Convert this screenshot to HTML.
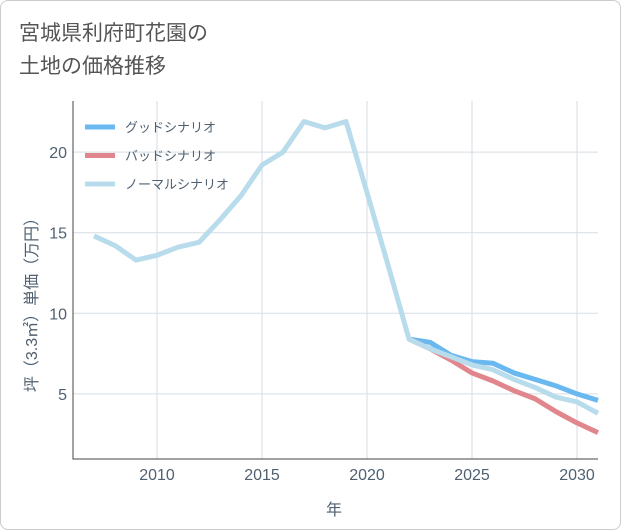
<!DOCTYPE html>
<html><head><meta charset="utf-8"><style>
body{margin:0;background:#fff;}
#card{position:absolute;left:0;top:0;width:619px;height:528px;border:1px solid #ccc;border-radius:8px;background:#fff;overflow:hidden;}
.t{font-family:"Liberation Sans","Noto Sans CJK JP",sans-serif;}
</style></head><body>
<div id="card">
<div class="t" style="position:absolute;left:18px;top:16px;font-size:21px;line-height:33px;color:#555;">宮城県利府町花園の<br>土地の価格推移</div>
<svg id="chart" width="621" height="530" style="position:absolute;left:0;top:0"></svg>
</div>
<script>
const years=[2007,2008,2009,2010,2011,2012,2013,2014,2015,2016,2017,2018,2019,2020,2021,2022,2023,2024,2025,2026,2027,2028,2029,2030,2031];
const normalVals=[14.8,14.2,13.3,13.6,14.1,14.4,15.8,17.3,19.2,20.0,21.9,21.5,21.9,17.5,13.0,8.4,7.8,7.3,6.8,6.5,5.9,5.4,4.8,4.5,3.8];
const futureYears=[2022,2023,2024,2025,2026,2027,2028,2029,2030,2031];
const goodVals=[8.4,8.2,7.4,7.0,6.9,6.3,5.9,5.5,5.0,4.6];
const badVals=[8.4,7.8,7.1,6.3,5.8,5.2,4.7,3.9,3.2,2.6];
const xTicks=[2010,2015,2020,2025,2030];
const yTicks=[5,10,15,20];
const legendLabels=["グッドシナリオ","バッドシナリオ","ノーマルシナリオ"];
const legendColors=["#6ab8f0","#e0868c","#b8dcec"];

const L=72,R=597,T=100,B=458;
const x=v=>L+(v-2006)*(R-L)/25;
const y=v=>473.5-v*16.12;
const svg=document.getElementById('chart');
const NS='http://www.w3.org/2000/svg';
function mk(tag,attrs){const e=document.createElementNS(NS,tag);for(const k in attrs)e.setAttribute(k,attrs[k]);svg.appendChild(e);return e;}
xTicks.forEach(v=>{
 const g=mk('line',{x1:x(v),x2:x(v),y1:T,y2:B,stroke:'#d5dde5','stroke-width':1});
 
 
 const t=mk('text',{x:x(v),y:479,'text-anchor':'middle','font-size':16,fill:'#506070',class:'t'});t.textContent=v;
 
 
});
yTicks.forEach(v=>{
 const g=mk('line',{x1:L,x2:R,y1:y(v),y2:y(v),stroke:'#d5dde5','stroke-width':1});
 
 
 const t=mk('text',{x:L-6,y:y(v)+6,'text-anchor':'end','font-size':16,fill:'#506070',class:'t'});t.textContent=v;
 
 
});
const ax=mk('path',{d:`M${L},${T}V${B}H${R}`,fill:'none',stroke:'#444','stroke-width':1});


function line(xs,vs,color,name){
 const p=mk('path',{d:xs.map((v,i)=>(i?'L':'M')+x(v)+','+y(vs[i])).join(''),fill:'none',stroke:color,'stroke-width':5,'stroke-linejoin':'round'});
 
 
}
line(futureYears,goodVals,legendColors[0],'good-scenario-line');
line(futureYears,badVals,legendColors[1],'bad-scenario-line');
line(years,normalVals,legendColors[2],'normal-scenario-line');
legendLabels.forEach((s,i)=>{
 const yy=126+i*28.5;
 const l=mk('line',{x1:84,x2:114,y1:yy,y2:yy,stroke:legendColors[i],'stroke-width':5});
 
 
 const t=mk('text',{x:124,y:yy+5,'font-size':13,fill:'#506070',class:'t'});t.textContent=s;
 
 
});
const xt=mk('text',{x:333,y:514,'text-anchor':'middle','font-size':16,fill:'#506070',class:'t'});xt.textContent='年';


const yt=mk('text',{x:0,y:0,'text-anchor':'middle','font-size':16,fill:'#506070',class:'t',transform:'translate(36,300) rotate(-90)'});yt.textContent='坪（3.3㎡）単価（万円）';


</script>
</body></html>
